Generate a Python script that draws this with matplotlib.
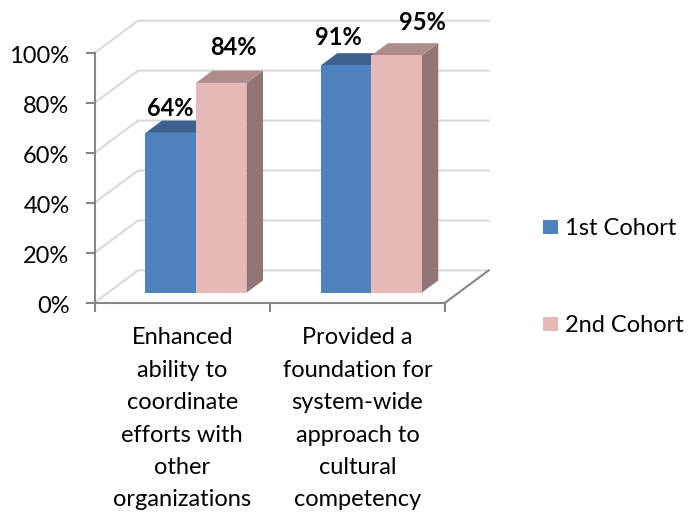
import matplotlib
matplotlib.use('Agg')
import matplotlib.pyplot as plt
from matplotlib.patches import Polygon, Rectangle

plt.rcParams['font.family'] = ['Lato', 'DejaVu Sans']

# Dane
categories = ['Enhanced\nability to\ncoordinate\nefforts with\nother\norganizations',
              'Provided a\nfoundation for\nsystem-wide\napproach to\ncultural\ncompetency']
cohort1 = [64, 91]
cohort2 = [84, 95]
series_names = ['1st Cohort', '2nd Cohort']
y_ticks = [0, 20, 40, 60, 80, 100]

# Geometria rzutu 3D w pikselach
X0, Y0 = 94.5, 302.7
UNIT_X = 175.3   # piksele na kategorie
UNIT_Y = 2.497   # piksele na procent
DX, DY = 43.5, -32.3   # przesuniecie glebi
D_FRONT, D_BACK = 0.31, 0.69
BAR_W = 0.288
BAR_START = 0.214
FONT = 17

GRID = '#d9d9d9'
AXIS = '#868686'
faces = [('#4f81bd', '#3c618f', '#34547c'), ('#e6b9b8', '#ae8c8b', '#927575')]


def pt(x, v, d=0.0):
    return (X0 + x * UNIT_X + d * DX, Y0 - v * UNIT_Y + d * DY)


fig = plt.figure(figsize=(7, 5.12), dpi=100)
ax = fig.add_axes([0, 0, 1, 1])
ax.set_xlim(0, 700)
ax.set_ylim(512, 0)
ax.axis('off')

n = len(categories)

# Siatka na scianach
for v in y_ticks:
    p0, p1, p2 = pt(0, v), pt(0, v, 1), pt(n, v, 1)
    ax.plot([p0[0], p1[0], p2[0]], [p0[1], p1[1], p2[1]], color=GRID, lw=1.5, zorder=1,
            solid_joinstyle='miter')

# Prawa krawedz podlogi i osie
p0, p1 = pt(n, 0), pt(n, 0, 1)
ax.plot([p0[0], p1[0]], [p0[1], p1[1]], color=AXIS, lw=1.5, zorder=2)
ax.plot([pt(0, 0)[0], pt(n, 0)[0]], [Y0, Y0], color=AXIS, lw=1.5, zorder=2)
ax.plot([X0, X0], [pt(0, 100)[1], Y0], color=AXIS, lw=1.5, zorder=2)
for v in y_ticks:
    y = pt(0, v)[1]
    ax.plot([X0 - 8, X0], [y, y], color=AXIS, lw=1.5, zorder=2)
    ax.text(69.5, y + 3.5, f'{v}%', ha='right', va='center', fontsize=FONT, color='black')
for i in range(n + 1):
    x = pt(i, 0)[0]
    ax.plot([x, x], [Y0, Y0 + 8], color=AXIS, lw=1.5, zorder=2)

# Slupki
z = 3
for i in range(n):
    for s, vals in enumerate([cohort1, cohort2]):
        v = vals[i]
        x0 = i + BAR_START + s * BAR_W
        x1 = x0 + BAR_W
        front, top, side = faces[s]
        ax.add_patch(Polygon([pt(x1, 0, D_FRONT), pt(x1, 0, D_BACK), pt(x1, v, D_BACK), pt(x1, v, D_FRONT)],
                             fc=side, ec='none', zorder=z))
        ax.add_patch(Polygon([pt(x0, v, D_FRONT), pt(x0, v, D_BACK), pt(x1, v, D_BACK), pt(x1, v, D_FRONT)],
                             fc=top, ec='none', zorder=z))
        ax.add_patch(Polygon([pt(x0, 0, D_FRONT), pt(x1, 0, D_FRONT), pt(x1, v, D_FRONT), pt(x0, v, D_FRONT)],
                             fc=front, ec='none', zorder=z + 1))
        z += 2

# Etykiety wartosci
label_dx = [[0, 12], [-8, 26]]
label_dy = [[-24, -35], [-28, -33]]
for i in range(n):
    for s, vals in enumerate([cohort1, cohort2]):
        x0 = i + BAR_START + s * BAR_W
        px, py = pt(x0 + BAR_W / 2, vals[i], D_FRONT)
        ax.text(px + label_dx[i][s], py + label_dy[i][s], f'{vals[i]}%', ha='center', va='center',
                fontsize=FONT, fontweight='bold', color='black', zorder=30)

# Etykiety kategorii
for i, label in enumerate(categories):
    ax.text(pt(i + 0.5, 0)[0], 327.5, label, ha='center', va='top', fontsize=FONT,
            linespacing=1.67, color='black')

# Legenda
for s, name in enumerate(series_names):
    y = 227 + s * 97
    ax.add_patch(Rectangle((543, y - 7), 15, 14, fc=faces[s][0], ec='none'))
    ax.text(565, y + 1.5, name, ha='left', va='center', fontsize=FONT, color='black')

fig.savefig('out.png', dpi=100)
